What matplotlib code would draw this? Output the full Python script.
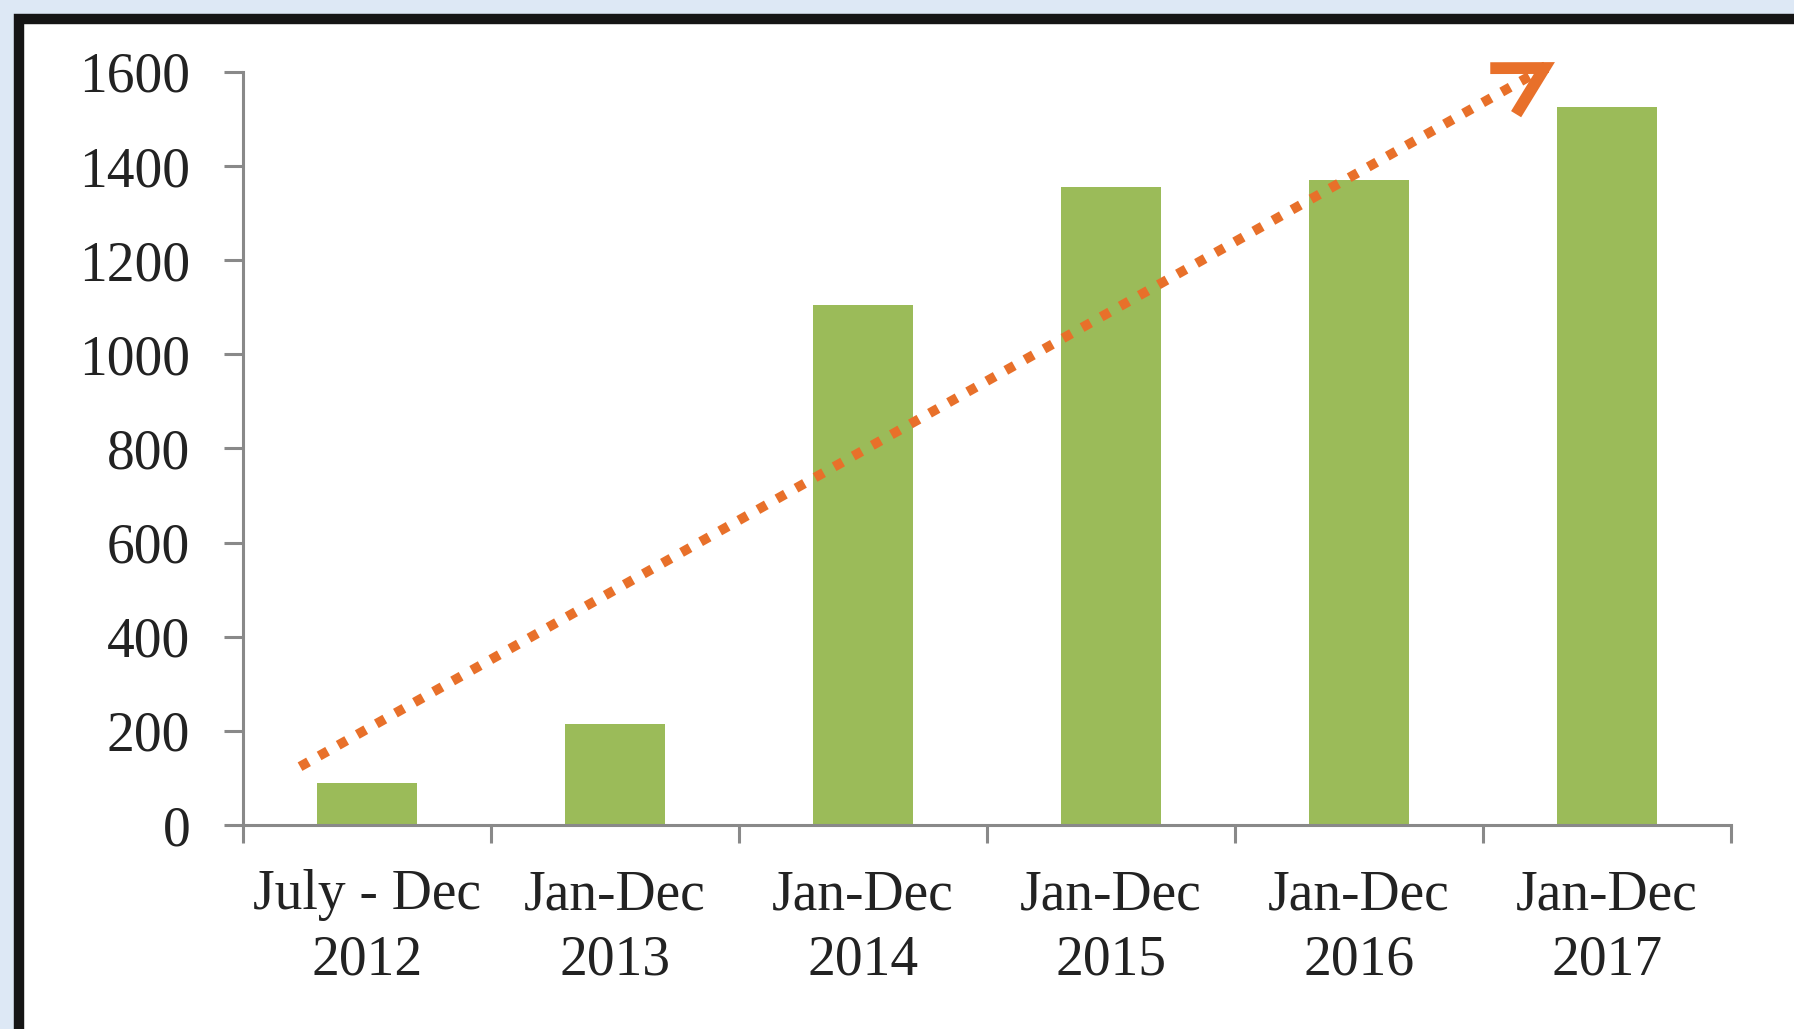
import matplotlib
matplotlib.use('Agg')
import matplotlib.pyplot as plt
from matplotlib.patches import Rectangle
import numpy as np

# periods and counts
periods = ['July - Dec\n2012', 'Jan-Dec\n2013', 'Jan-Dec\n2014',
           'Jan-Dec\n2015', 'Jan-Dec\n2016', 'Jan-Dec\n2017']
counts = [90, 215, 1105, 1355, 1370, 1525]
yticks = [0, 200, 400, 600, 800, 1000, 1200, 1400, 1600]

# trend arrow (start, tip) in data units
trend_x = [-0.27, 4.79]
trend_y = [124, 1621]

plt.rcParams['font.family'] = ['Liberation Serif', 'DejaVu Serif']

fig = plt.figure(figsize=(17.94, 10.29), dpi=100)
fig.patch.set_facecolor('#DDE8F5')

# white panel with thick black frame (cut off right / bottom)
W, H = 1794.0, 1029.0
fig.patches.append(Rectangle((18.5 / W, -0.2), 2.0, (H - 18.5) / H + 0.2,
                             transform=fig.transFigure, facecolor='white',
                             edgecolor='#151515', linewidth=7.5, zorder=-1))

ax = fig.add_axes([243 / W, 1 - 825 / H, (1731 - 243) / W, (825 - 72) / H])
ax.set_facecolor('none')

x = np.arange(len(periods))
ax.bar(x, counts, width=0.4, color='#9BBB59', zorder=2)

ax.set_xlim(-0.5, len(periods) - 0.5)
ax.set_ylim(0, 1600)
ax.set_yticks(yticks)
ax.set_xticks(x)
ax.set_xticklabels(periods, linespacing=1.33)
ax.set_xticks(np.arange(-0.5, len(periods), 1.0), minor=True)

for s in ['top', 'right']:
    ax.spines[s].set_visible(False)
for s in ['left', 'bottom']:
    ax.spines[s].set_color('#898989')
    ax.spines[s].set_linewidth(2.2)

ax.tick_params(axis='y', direction='out', length=14, width=2.2, color='#898989',
               labelsize=40, labelcolor='#222222', pad=24)
ax.tick_params(axis='x', which='major', length=0, labelsize=40,
               labelcolor='#222222', pad=32)
ax.tick_params(axis='x', which='minor', direction='out', length=13, width=2.2,
               color='#898989')

# dotted trend line
orange = '#E8702A'
fx = trend_x[0] + (trend_x[1] - trend_x[0]) * 0.985
fy = trend_y[0] + (trend_y[1] - trend_y[0]) * 0.985
ax.plot([trend_x[0], fx], [trend_y[0], fy], color=orange, lw=7,
        linestyle=(0, (1, 1.25)), dash_capstyle='butt', clip_on=False, zorder=3)

# chevron head
hx = trend_x[0] + (trend_x[1] - trend_x[0]) * 0.99
hy = trend_y[0] + (trend_y[1] - trend_y[0]) * 0.99
ax.annotate('', xy=(trend_x[1], trend_y[1]), xytext=(hx, hy),
            arrowprops=dict(arrowstyle='->, head_length=3.4, head_width=1.9',
                            color=orange, lw=8.5, shrinkA=0, shrinkB=0,
                            mutation_scale=10, capstyle='butt',
                            joinstyle='miter'),
            annotation_clip=False, zorder=3)

fig.savefig('out.png', dpi=100, facecolor=fig.get_facecolor())
